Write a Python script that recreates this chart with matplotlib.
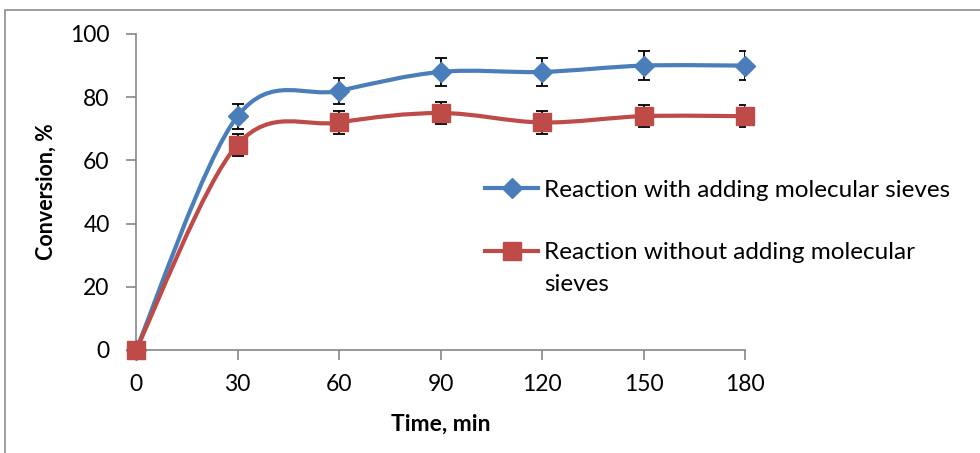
import matplotlib.pyplot as plt
import numpy as np
from matplotlib.path import Path
from matplotlib.patches import PathPatch, Rectangle
from matplotlib.lines import Line2D

plt.rcParams['font.family'] = ['Lato', 'DejaVu Sans']

# данные
time = [0, 30, 60, 90, 120, 150, 180]
with_sieves = [0, 74, 82, 88, 88, 90, 90]
without_sieves = [0, 65, 72, 75, 72, 74, 74]
err_with = [0, 4, 4, 4.5, 4.5, 4.5, 4.5]
err_without = [0, 3.5, 3.5, 3.5, 3.5, 3.5, 3.5]
labels = ['Reaction with adding molecular sieves',
          'Reaction without adding molecular']
label_tail = 'sieves'
blue = '#4a7ebb'
red = '#be4b48'


def smooth_path(x, y):
    # сглаживание как в Excel (кривые Безье)
    x = np.asarray(x, float)
    y = np.asarray(y, float)
    n = len(x)
    verts = [(x[0], y[0])]
    codes = [Path.MOVETO]
    for i in range(n - 1):
        x0, y0 = (x[i - 1], y[i - 1]) if i > 0 else (x[i], y[i])
        x3, y3 = (x[i + 2], y[i + 2]) if i + 2 < n else (x[i + 1], y[i + 1])
        c1 = (x[i] + (x[i + 1] - x0) / 6, y[i] + (y[i + 1] - y0) / 6)
        c2 = (x[i + 1] - (x3 - x[i]) / 6, y[i + 1] - (y3 - y[i]) / 6)
        verts += [c1, c2, (x[i + 1], y[i + 1])]
        codes += [Path.CURVE4] * 3
    return Path(verts, codes)


fig = plt.figure(figsize=(9.8, 4.53), dpi=100)
ax = fig.add_axes([136 / 980, 1 - 350 / 453, (745 - 136) / 980, (350 - 34) / 453])

fig.patches.append(Rectangle((5 / 980, -0.5), 2, 0.5 + 1 - 10 / 453,
                             transform=fig.transFigure, fill=False,
                             edgecolor='#8c8c8c', linewidth=1.2))

for ys, err, col, mk, ms in [(with_sieves, err_with, blue, 'D', 10),
                             (without_sieves, err_without, red, 's', 13)]:
    ax.add_patch(PathPatch(smooth_path(time, ys), facecolor='none',
                           edgecolor=col, linewidth=3, zorder=2))
    ax.errorbar(time, ys, yerr=err, fmt='none', ecolor='black',
                elinewidth=1.3, capsize=4, capthick=1.3, zorder=3)
    ax.plot(time, ys, linestyle='none', marker=mk, markersize=ms,
            color=col, zorder=4, clip_on=False)

ax.set_xlim(0, 180)
ax.set_ylim(0, 100)
ax.set_xticks(time)
ax.set_yticks(range(0, 101, 20))
ax.tick_params(labelsize=16.5, length=7, color='#868686', width=1.2)
ax.tick_params(axis='x', pad=10)
ax.tick_params(axis='y', pad=12)
for s in ['top', 'right']:
    ax.spines[s].set_visible(False)
for s in ['left', 'bottom']:
    ax.spines[s].set_color('#868686')
    ax.spines[s].set_linewidth(1.2)
ax.set_xlabel('Time, min', fontsize=16.5, fontweight='bold', labelpad=14)
ax.set_ylabel('Conversion, %', fontsize=15.5, fontweight='bold', labelpad=10)

handles = [Line2D([], [], color=blue, lw=3, marker='D', markersize=10),
           Line2D([], [], color=red, lw=3, marker='s', markersize=13)]
leg = fig.legend(handles, labels, loc='upper left',
                 bbox_to_anchor=(463 / 980, 1 - 158 / 453),
                 frameon=False, fontsize=17.5, handlelength=2.2,
                 handletextpad=0.25, labelspacing=1.7)

# перенос второй подписи на новую строку
fig.canvas.draw()
bb = leg.get_texts()[1].get_window_extent()
fig.text(bb.x0 / 980, (bb.y0 - 11) / 453, label_tail, fontsize=17.5,
         ha='left', va='top')

fig.savefig('out.png', dpi=100)
